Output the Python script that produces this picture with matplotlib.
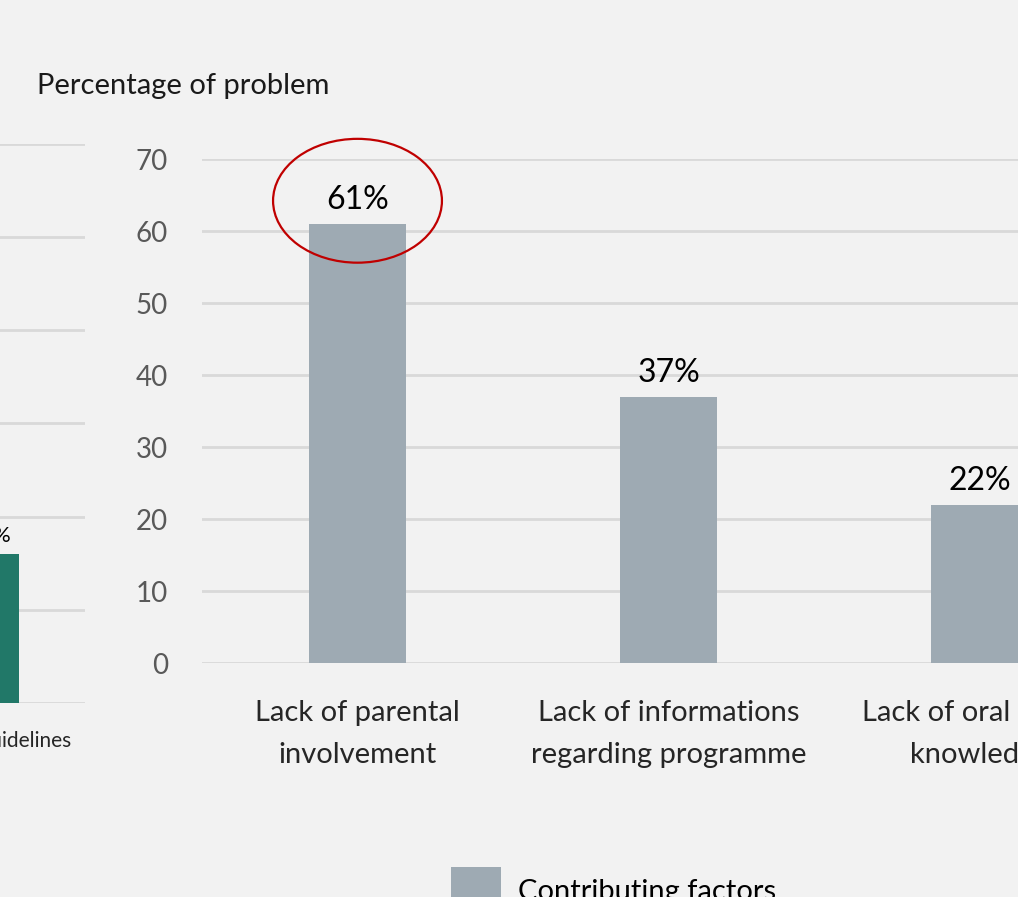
import matplotlib
matplotlib.use("Agg")
import matplotlib.pyplot as plt
from matplotlib.patches import Ellipse, Patch

# Main chart data
categories = ["Lack of parental\ninvolvement", "Lack of informations\nregarding programme", "Lack of oral health\nknowledge"]
values = [61, 37, 22]
yticks = [0, 10, 20, 30, 40, 50, 60, 70]

# Partially visible chart on the left
left_categories = ["Lack of guidelines"]
left_values = [16]
left_yticks = [0, 10, 20, 30, 40, 50, 60]

BG = "#f2f2f2"
BAR = "#9eaab3"
GREEN = "#217868"
GRID = "#d9d9d9"
FONT = ["Lato", "DejaVu Sans"]
plt.rcParams['font.family'] = FONT

W, H = 1018, 897
fig = plt.figure(figsize=(W / 100, H / 100), dpi=100, facecolor=BG)

# ---- left (cut-off) chart ----
axl = fig.add_axes([-111 / W, (H - 703) / H, (85 + 111) / W, (703 - 144) / H], facecolor=BG)
axl.bar(range(len(left_values)), left_values, width=0.6, color=GREEN, zorder=3)
axl.set_xlim(-0.5, 0.5 + (85 - 51) / 162)
axl.set_ylim(0, 60)
axl.set_yticks(left_yticks)
axl.yaxis.grid(True, color=GRID, linewidth=2)
axl.set_axisbelow(True)
axl.tick_params(axis='y', left=False, labelleft=False)
axl.tick_params(axis='x', bottom=False, labelsize=15, colors="#262626", pad=17)
axl.set_xticks([i + 0.12 for i in range(len(left_categories))])
axl.set_xticklabels(left_categories)
for s in axl.spines.values():
    s.set_visible(False)
for i, v in enumerate(left_values):
    axl.text(i + 0.12, v + 0.8, f"{v}%", ha='center', va='bottom', fontsize=16, color="#000000")

# ---- main chart ----
ax = fig.add_axes([202 / W, (H - 663) / H, 933 / W, 504 / H], facecolor=BG)
x = list(range(len(categories)))
ax.bar(x, values, width=0.31, color=BAR, zorder=3)
ax.set_xlim(-0.5, 2.5)
ax.set_ylim(0, 70)
ax.set_yticks(yticks)
ax.yaxis.grid(True, color=GRID, linewidth=2)
ax.set_axisbelow(True)
for s in ax.spines.values():
    s.set_visible(False)
ax.tick_params(axis='y', left=False, labelsize=20, colors="#595959", pad=21)
ax.set_xticks(x)
ax.set_xticklabels(categories, fontsize=21, color="#262626", linespacing=1.75)
ax.tick_params(axis='x', bottom=False, pad=23)

for i, v in enumerate(values):
    ax.text(i, v + 1.2, f"{v}%", ha='center', va='bottom', fontsize=23, color="#000000")

# highlight ellipse around the top bar
top = values.index(max(values))
ax.add_patch(Ellipse((top, max(values) + 3.2), width=0.543, height=17.2,
                     fill=False, edgecolor="#c00000", linewidth=1.6, zorder=5, clip_on=False))

fig.text(37 / W, 1 - 86 / H, "Percentage of problem", fontsize=21, color="#1a1a1a",
         ha='left', va='center')

fig.legend(handles=[Patch(facecolor=BAR, edgecolor='none', label="Contributing factors")],
           loc='upper left', bbox_to_anchor=(425 / W, 1 - 841 / H), frameon=False,
           fontsize=21, handlelength=1.7, handleheight=2.1, handletextpad=0.6,
           labelcolor="#000000")

fig.savefig("out.png", dpi=100, facecolor=BG)
